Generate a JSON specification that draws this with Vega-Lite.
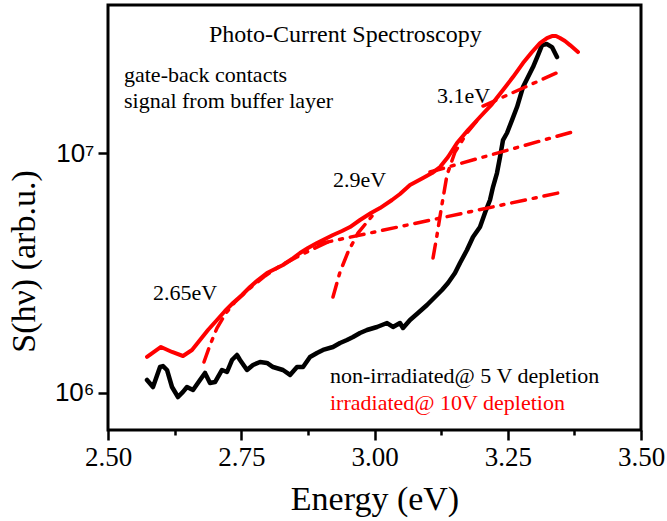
{
  "$schema": "https://vega.github.io/schema/vega-lite/v6.json",
  "width": 533,
  "height": 425,
  "autosize": "none",
  "padding": {"left": 108, "top": 5, "right": 26, "bottom": 91},
  "background": "white",
  "config": {
    "view": {"stroke": "black", "strokeWidth": 3},
    "font": "Liberation Serif"
  },
  "datasets": {
    "black": [
      {"x":2.5732,"y":1.133e6},{"x":2.5844,"y":1.059e6},{"x":2.5976,"y":1.283e6},{"x":2.6032,"y":1.295e6},{"x":2.6107,"y":1.247e6},{"x":2.6201,"y":1.059e6},{"x":2.6313,"y":9.62e5},{"x":2.6407,"y":1.010e6},{"x":2.6482,"y":1.059e6},{"x":2.6595,"y":1.029e6},{"x":2.6726,"y":1.133e6},{"x":2.6820,"y":1.212e6},{"x":2.6914,"y":1.101e6},{"x":2.7008,"y":1.111e6},{"x":2.7139,"y":1.247e6},{"x":2.7233,"y":1.223e6},{"x":2.7326,"y":1.372e6},{"x":2.7420,"y":1.440e6},{"x":2.7477,"y":1.372e6},{"x":2.7608,"y":1.247e6},{"x":2.7720,"y":1.308e6},{"x":2.7852,"y":1.346e6},{"x":2.7983,"y":1.334e6},{"x":2.8096,"y":1.283e6},{"x":2.8283,"y":1.247e6},{"x":2.8415,"y":1.189e6},{"x":2.8546,"y":1.283e6},{"x":2.8659,"y":1.283e6},{"x":2.8790,"y":1.413e6},{"x":2.8921,"y":1.468e6},{"x":2.9034,"y":1.511e6},{"x":2.9221,"y":1.555e6},{"x":2.9353,"y":1.616e6},{"x":2.9484,"y":1.663e6},{"x":2.9597,"y":1.711e6},{"x":2.9728,"y":1.778e6},{"x":2.9859,"y":1.830e6},{"x":3.0047,"y":1.884e6},{"x":3.0235,"y":1.957e6},{"x":3.0347,"y":1.884e6},{"x":3.0478,"y":1.957e6},{"x":3.0535,"y":1.866e6},{"x":3.0666,"y":2.015e6},{"x":3.0816,"y":2.154e6},{"x":3.0985,"y":2.326e6},{"x":3.1135,"y":2.512e6},{"x":3.1266,"y":2.686e6},{"x":3.1379,"y":2.873e6},{"x":3.1510,"y":3.162e6},{"x":3.1604,"y":3.481e6},{"x":3.1735,"y":3.943e6},{"x":3.1848,"y":4.467e6},{"x":3.1979,"y":4.917e6},{"x":3.2092,"y":5.786e6},{"x":3.2167,"y":6.372e6},{"x":3.2223,"y":7.216e6},{"x":3.2298,"y":8.254e6},{"x":3.2355,"y":9.624e6},{"x":3.2411,"y":1.133e7},{"x":3.2486,"y":1.212e7},{"x":3.2580,"y":1.372e7},{"x":3.2674,"y":1.555e7},{"x":3.2786,"y":1.884e7},{"x":3.2880,"y":2.073e7},{"x":3.2974,"y":2.282e7},{"x":3.3068,"y":2.561e7},{"x":3.3143,"y":2.818e7},{"x":3.3236,"y":2.846e7},{"x":3.3330,"y":2.765e7},{"x":3.3424,"y":2.512e7}
    ],
    "red": [
      {"x":2.5732,"y":1.413e6},{"x":2.5994,"y":1.555e6},{"x":2.6201,"y":1.482e6},{"x":2.6407,"y":1.426e6},{"x":2.6576,"y":1.511e6},{"x":2.6726,"y":1.663e6},{"x":2.6876,"y":1.830e6},{"x":2.7045,"y":2.015e6},{"x":2.7195,"y":2.196e6},{"x":2.7345,"y":2.371e6},{"x":2.7514,"y":2.561e6},{"x":2.7664,"y":2.765e6},{"x":2.7814,"y":2.957e6},{"x":2.7983,"y":3.162e6},{"x":2.8133,"y":3.286e6},{"x":2.8283,"y":3.415e6},{"x":2.8452,"y":3.617e6},{"x":2.8602,"y":3.831e6},{"x":2.8752,"y":4.019e6},{"x":2.8921,"y":4.217e6},{"x":2.9071,"y":4.382e6},{"x":2.9221,"y":4.553e6},{"x":2.9390,"y":4.732e6},{"x":2.9540,"y":4.917e6},{"x":2.9728,"y":5.259e6},{"x":2.9934,"y":5.623e6},{"x":3.0103,"y":5.899e6},{"x":3.0328,"y":6.372e6},{"x":3.0478,"y":6.749e6},{"x":3.0666,"y":7.356e6},{"x":3.0910,"y":7.867e6},{"x":3.1079,"y":8.254e6},{"x":3.1229,"y":8.743e6},{"x":3.1379,"y":9.624e6},{"x":3.1548,"y":1.101e7},{"x":3.1754,"y":1.247e7},{"x":3.1979,"y":1.413e7},{"x":3.2205,"y":1.600e7},{"x":3.2411,"y":1.830e7},{"x":3.2598,"y":2.073e7},{"x":3.2786,"y":2.371e7},{"x":3.2955,"y":2.636e7},{"x":3.3105,"y":2.873e7},{"x":3.3236,"y":3.015e7},{"x":3.3330,"y":3.073e7},{"x":3.3405,"y":3.073e7},{"x":3.3480,"y":3.015e7},{"x":3.3574,"y":2.929e7},{"x":3.3668,"y":2.818e7},{"x":3.3818,"y":2.636e7}
    ],
    "fits": [
      {"fit":"A","x":2.6801,"y":1.346e6},{"fit":"A","x":2.6914,"y":1.585e6},{"fit":"A","x":2.7045,"y":1.866e6},{"fit":"A","x":2.7214,"y":2.154e6},{"fit":"A","x":2.7383,"y":2.394e6},{"fit":"A","x":2.7664,"y":2.738e6},{"fit":"A","x":2.7946,"y":3.073e6},{"fit":"A","x":2.8227,"y":3.381e6},{"fit":"A","x":2.8546,"y":3.687e6},{"fit":"A","x":2.8846,"y":3.981e6},{"fit":"A","x":2.9128,"y":4.257e6},
      {"fit":"B","x":2.894,"y":4.177e6},{"fit":"B","x":3.3537,"y":6.880e6},
      {"fit":"C","x":2.9221,"y":2.512e6},{"fit":"C","x":2.9353,"y":3.193e6},{"fit":"C","x":2.9503,"y":3.868e6},{"fit":"C","x":2.9690,"y":4.642e6},{"fit":"C","x":2.9953,"y":5.464e6},
      {"fit":"D","x":3.1041,"y":8.333e6},{"fit":"D","x":3.3705,"y":1.223e7},
      {"fit":"E","x":3.1098,"y":3.652e6},{"fit":"E","x":3.1173,"y":4.553e6},{"fit":"E","x":3.1248,"y":5.786e6},{"fit":"E","x":3.1360,"y":8.1e6},{"fit":"E","x":3.1510,"y":1.010e7},{"fit":"E","x":3.1735,"y":1.212e7},{"fit":"E","x":3.1979,"y":1.413e7},
      {"fit":"F","x":3.2036,"y":1.570e7},{"fit":"F","x":3.3537,"y":2.218e7}
    ],
    "heading": [
      {"label":"Photo-Current Spectroscopy","x":2.6895,"y":2.90e7}
    ],
    "notes": [
      {"label":"gate-back contacts","x":2.530,"y":1.976e7},
      {"label":"signal from buffer layer","x":2.530,"y":1.540e7},
      {"label":"3.1eV","x":3.1173,"y":1.616e7},
      {"label":"2.9eV","x":2.9221,"y":7.216e6},
      {"label":"2.65eV","x":2.5844,"y":2.44e6},
      {"label":"non-irradiated@ 5 V depletion","x":2.9165,"y":1.101e6}
    ],
    "rednotes": [
      {"label":"irradiated@ 10V depletion","x":2.9165,"y":8.49e5}
    ]
  },
  "encoding": {
    "x": {
      "field": "x", "type": "quantitative",
      "scale": {"domain": [2.5, 3.5], "nice": false, "zero": false},
      "axis": {
        "title": "Energy (eV)",
        "values": [2.5, 2.625, 2.75, 2.875, 3.0, 3.125, 3.25, 3.375, 3.5],
        "labelExpr": "abs(datum.value*4 - round(datum.value*4)) < 0.001 ? format(datum.value, '.2f') : ''",
        "domain": false,
        "grid": false,
        "tickColor": "black",
        "tickWidth": 2.5,
        "tickSize": {"condition": {"test": "abs(datum.value*4 - round(datum.value*4)) < 0.001", "value": 10}, "value": 5},
        "labelFont": "Liberation Serif",
        "labelFontSize": 27,
        "labelColor": "black",
        "labelPadding": 4,
        "labelFlush": false,
        "labelOverlap": false,
        "titleFont": "Liberation Serif",
        "titleFontSize": 34,
        "titleFontWeight": "normal",
        "titleColor": "black",
        "titleX": 266.5,
        "titleY": 79,
        "titleBaseline": "alphabetic",
        "titleAlign": "center"
      }
    },
    "y": {
      "field": "y", "type": "quantitative",
      "scale": {"type": "log", "domain": [7.01e5, 4.14e7], "nice": false},
      "axis": {
        "title": "S(hν) (arb.u.)",
        "values": [1e6, 1e7],
        "labelExpr": "datum.value > 5e6 ? '10⁷' : '10⁶'",
        "domain": false,
        "grid": false,
        "tickColor": "black",
        "tickWidth": 2.5,
        "tickSize": 10,
        "labelFont": "Liberation Sans",
        "labelFontSize": 26,
        "labelColor": "black",
        "labelPadding": 4,
        "labelFlush": false,
        "titleFont": "Liberation Serif",
        "titleFontSize": 34,
        "titleFontWeight": "normal",
        "titleColor": "black",
        "titleX": -74,
        "titleY": 256,
        "titleAngle": -90,
        "titleBaseline": "alphabetic",
        "titleAlign": "center"
      }
    }
  },
  "layer": [
    {
      "data": {"name": "black"},
      "mark": {"type": "line", "color": "black", "strokeWidth": 4.5, "strokeJoin": "round", "strokeCap": "round"}
    },
    {
      "data": {"name": "fits"},
      "mark": {"type": "line", "color": "#ff0000", "strokeWidth": 3.5, "strokeDash": [14, 8, 3, 8], "strokeCap": "round"},
      "encoding": {"detail": {"field": "fit", "type": "nominal"}}
    },
    {
      "data": {"name": "red"},
      "mark": {"type": "line", "color": "#ff0000", "strokeWidth": 4, "strokeJoin": "round", "strokeCap": "round"}
    },
    {
      "data": {"name": "heading"},
      "mark": {"type": "text", "align": "left", "baseline": "alphabetic", "font": "Liberation Serif", "fontSize": 24, "color": "black"},
      "encoding": {"text": {"field": "label"}}
    },
    {
      "data": {"name": "notes"},
      "mark": {"type": "text", "align": "left", "baseline": "alphabetic", "font": "Liberation Serif", "fontSize": 22, "color": "black"},
      "encoding": {"text": {"field": "label"}}
    },
    {
      "data": {"name": "rednotes"},
      "mark": {"type": "text", "align": "left", "baseline": "alphabetic", "font": "Liberation Serif", "fontSize": 22, "color": "#ff0000"},
      "encoding": {"text": {"field": "label"}}
    }
  ]
}
